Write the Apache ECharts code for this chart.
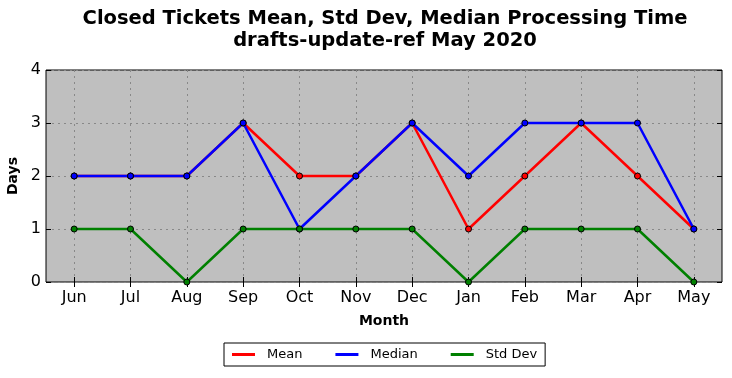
<!DOCTYPE html>
<html><head><meta charset="utf-8">
<script src="https://cdn.jsdelivr.net/npm/echarts@6/dist/echarts.min.js"></script>
<style>html,body{margin:0;padding:0;background:#fff}#c{width:732px;height:378px}</style>
</head><body><div id="c"></div>
<script>
const months = ['Jun','Jul','Aug','Sep','Oct','Nov','Dec','Jan','Feb','Mar','Apr','May'];
const meanVals = [2,2,2,3,2,2,3,1,2,3,2,1];
const medianVals = [2,2,2,3,1,2,3,2,3,3,3,1];
const stdVals = [1,1,0,1,1,1,1,0,1,1,1,0];
const yTicks = [0,1,2,3,4];

const F = 'DejaVu Sans';
const chart = echarts.init(document.getElementById('c'), null, {renderer:'canvas'});
function ser(name, data, color){
  return {name, type:'line', data, color, symbol:'circle', symbolSize:6,
    lineStyle:{width:2.5, color}, itemStyle:{color, borderColor:'#000', borderWidth:1},
    emphasis:{disabled:true}, animation:false};
}
const tickStyle = {show:true, inside:true, length:5, alignWithLabel:true, lineStyle:{color:'#000'}};
chart.setOption({
  animation:false,
  title:{text:'Closed Tickets Mean, Std Dev, Median Processing Time\ndrafts-update-ref May 2020',
    left:380, top:3, textAlign:'center',
    textStyle:{fontFamily:F, fontSize:19.5, fontWeight:'bold', color:'#000', lineHeight:22}},
  grid:{left:46, right:10, top:70, bottom:96, outerBoundsMode:'none', containLabel:false, show:true, backgroundColor:'#bfbfbf', borderColor:'#000', borderWidth:1},
  legend:{left:224, top:343, padding:[5,8,5,8], borderColor:'#000', borderWidth:1,
    itemWidth:23, itemHeight:3, itemGap:33, icon:'rect', itemStyle:{borderWidth:0},
    textStyle:{fontFamily:F, fontSize:13, color:'#000', padding:[0,0,0,7]},
    data:['Mean','Median','Std Dev']},
  xAxis:[{type:'category', data:months, boundaryGap:true, name:'Month', nameLocation:'middle', nameGap:32,
    nameTextStyle:{fontFamily:F, fontSize:14, fontWeight:'bold', color:'#000'},
    axisLine:{show:false}, axisTick:tickStyle,
    axisLabel:{fontFamily:F, fontSize:16, color:'#000', margin:8},
    splitLine:{show:true, alignWithLabel:true, lineStyle:{color:'#888', type:[2,4], width:1}}},
    {type:'category', data:months, position:'top', boundaryGap:true, axisLine:{show:false}, axisTick:tickStyle, axisLabel:{show:false}, splitLine:{show:false}}],
  yAxis:[{type:'value', min:yTicks[0], max:yTicks[yTicks.length-1], interval:1, name:'Days', nameLocation:'middle', nameGap:21,
    nameTextStyle:{fontFamily:F, fontSize:14, fontWeight:'bold', color:'#000'},
    axisLine:{show:false}, axisTick:{show:true, inside:true, length:5, lineStyle:{color:'#000'}},
    axisLabel:{fontFamily:F, fontSize:16, color:'#000', margin:5},
    splitLine:{show:true, lineStyle:{color:'#888', type:[2,4], width:1}}},
    {type:'value', min:yTicks[0], max:yTicks[yTicks.length-1], interval:1, position:'right', axisLine:{show:false},
    axisTick:{show:true, inside:true, length:5, lineStyle:{color:'#000'}}, axisLabel:{show:false}, splitLine:{show:false}}],
  series:[ser('Mean', meanVals, '#ff0000'), ser('Median', medianVals, '#0000ff'), ser('Std Dev', stdVals, '#008000')]
});
</script></body></html>
